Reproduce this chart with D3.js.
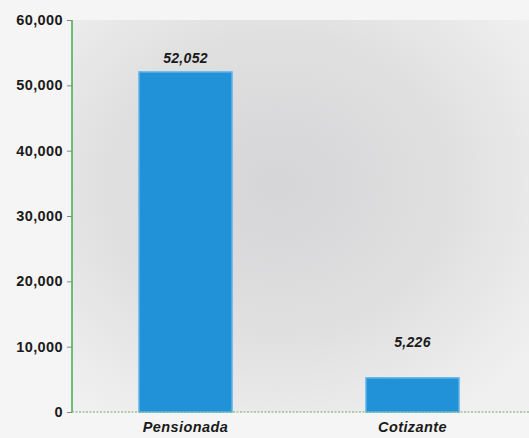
<!DOCTYPE html>
<html>
<head>
<meta charset="utf-8">
<script src="https://cdn.jsdelivr.net/npm/d3@7"></script>
<style>
  body { margin: 0; background: #f5f5f5; }
  svg { display: block; font-family: "Liberation Sans", Arial, sans-serif; }
</style>
</head>
<body>
<script>
var categories = ['Pensionada', 'Cotizante'];
var values = [52052, 5226];
var yTicks = [0, 10000, 20000, 30000, 40000, 50000, 60000];

var width = 529, height = 438;
var plotLeft = 72, plotTop = 20, plotBottom = 412, plotRight = 526;

var svg = d3.select('body').append('svg')
  .attr('width', width)
  .attr('height', height);

var defs = svg.append('defs');
var grad = defs.append('radialGradient')
  .attr('id', 'bg')
  .attr('cx', '45%').attr('cy', '42%').attr('r', '70%');
grad.append('stop').attr('offset', '0%').attr('stop-color', '#d5d5d7');
grad.append('stop').attr('offset', '55%').attr('stop-color', '#e0e0e1');
grad.append('stop').attr('offset', '100%').attr('stop-color', '#f0f0f0');

svg.append('rect')
  .attr('x', plotLeft).attr('y', plotTop)
  .attr('width', width - plotLeft).attr('height', plotBottom - plotTop)
  .attr('fill', 'url(#bg)');

var x = d3.scaleBand()
  .domain(categories)
  .range([plotLeft, plotRight])
  .paddingInner(0.59)
  .paddingOuter(0.295);

var y = d3.scaleLinear()
  .domain([0, 60000])
  .range([plotBottom, plotTop]);

svg.selectAll('rect.bar')
  .data(values)
  .enter()
  .append('rect')
  .attr('class', 'bar')
  .attr('x', (d, i) => x(categories[i]))
  .attr('y', d => y(d))
  .attr('width', x.bandwidth())
  .attr('height', d => y(0) - y(d))
  .attr('fill', '#2192d8')
  .attr('stroke', '#63b6ea')
  .attr('stroke-width', 1.5);

svg.selectAll('text.val')
  .data(values)
  .enter()
  .append('text')
  .attr('class', 'val')
  .attr('x', (d, i) => x(categories[i]) + x.bandwidth() / 2)
  .attr('y', d => Math.min(y(d) - 9, y(0) - 65))
  .attr('text-anchor', 'middle')
  .attr('font-size', 14)
  .attr('font-weight', 'bold')
  .attr('font-style', 'italic')
  .attr('letter-spacing', 0.3)
  .attr('fill', '#1a1a1a')
  .text(d => d3.format(',')(d));

// baseline
svg.append('line')
  .attr('x1', plotLeft).attr('x2', width)
  .attr('y1', y(0)).attr('y2', y(0))
  .attr('stroke', '#6aaa6a')
  .attr('stroke-width', 1)
  .attr('stroke-dasharray', '2,1.5');

var yAxis = d3.axisLeft(y)
  .tickValues(yTicks)
  .tickSize(5)
  .tickPadding(4)
  .tickFormat(d3.format(','));

var gy = svg.append('g')
  .attr('transform', 'translate(' + plotLeft + ',0)')
  .call(yAxis);
gy.select('.domain').attr('stroke', '#3fae4a').attr('stroke-width', 1.5)
  .attr('d', 'M0,' + plotTop + 'V' + plotBottom);
gy.selectAll('.tick line').attr('stroke', '#888');
gy.selectAll('.tick text')
  .attr('font-size', 14.5)
  .attr('font-weight', 'bold')
  .attr('letter-spacing', 0.4)
  .attr('fill', '#1a1a1a')
  .attr('font-family', '"Liberation Sans", Arial, sans-serif');

svg.selectAll('text.cat')
  .data(categories)
  .enter()
  .append('text')
  .attr('class', 'cat')
  .attr('x', d => x(d) + x.bandwidth() / 2)
  .attr('y', 432)
  .attr('text-anchor', 'middle')
  .attr('font-size', 14.5)
  .attr('font-weight', 'bold')
  .attr('font-style', 'italic')
  .attr('letter-spacing', 0.4)
  .attr('fill', '#1a1a1a')
  .text(d => d);
</script>
</body>
</html>
